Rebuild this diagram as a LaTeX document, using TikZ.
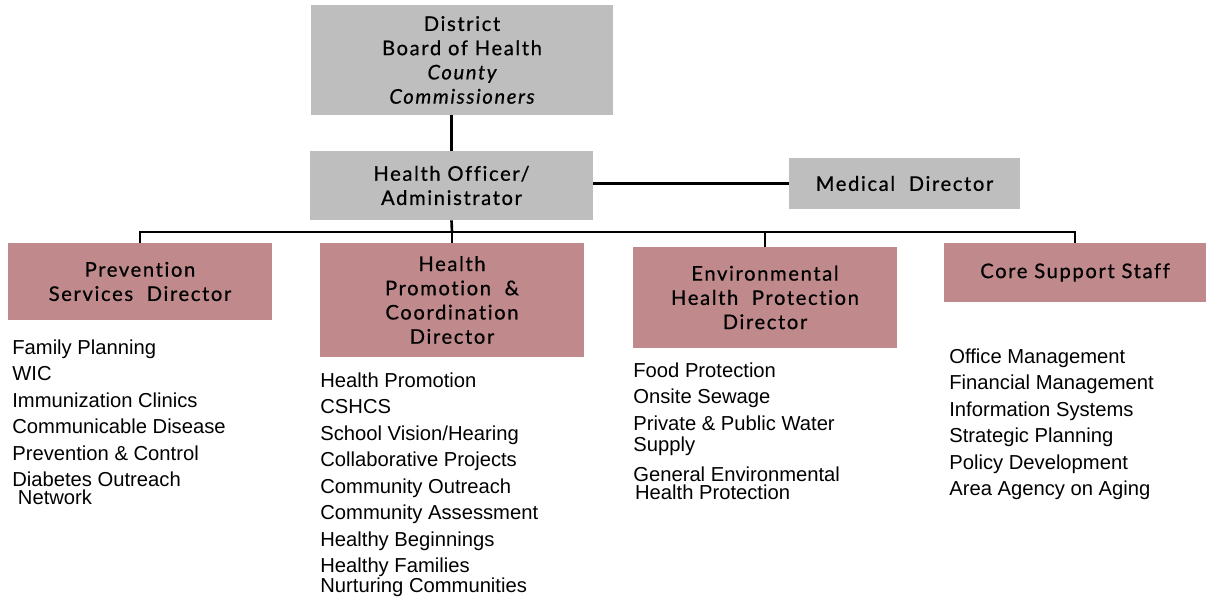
\documentclass[tikz,border=0pt]{standalone}
\usepackage{fontspec}
\setmainfont{Liberation Sans}
\newfontfamily\boxfont[LetterSpace=8,Ligatures={NoCommon},FakeBold=0.6]{Lato}
\usetikzlibrary{positioning}

\definecolor{boardgray}{RGB}{190,190,190}
\definecolor{dirrose}{RGB}{192,138,140}

\begin{document}
\begin{tikzpicture}[x=0.02cm,y=-0.02cm,
    headbox/.style={fill=boardgray, align=center, inner sep=0pt,
      font=\boxfont\fontsize{11.5}{13.8}\selectfont},
    dirbox/.style={fill=dirrose, align=center, inner sep=0pt,
      font=\boxfont\fontsize{11.5}{13.8}\selectfont},
    unitlist/.style={align=left, anchor=north west, inner sep=0pt,
      font=\fontsize{11.5}{15.1}\selectfont},
    link/.style={line width=1.5pt}]
  \useasboundingbox (0,0) rectangle (1206,599);

  % Leitung
  \node[headbox, minimum width=6.04cm, minimum height=2.2cm] (board) at (462,60)
    {District\\Board of Health\\\itshape County\\\itshape Commissioners};
  \node[headbox, minimum width=5.66cm, minimum height=1.38cm] (officer) at (451.5,185.5)
    {Health Officer/\\Administrator};
  \node[headbox, minimum width=4.62cm, minimum height=1.02cm] (medical) at (904.5,183.5)
    {Medical\ \ Director};

  % Abteilungen
  \node[dirbox, minimum width=5.28cm, minimum height=1.54cm] (prevention) at (140,281.5)
    {Prevention\\Services\ \ Director};
  \node[dirbox, minimum width=5.28cm, minimum height=2.28cm] (promotion) at (452,300)
    {Health\\Promotion\ \ \&\\Coordination\\Director};
  \node[dirbox, minimum width=5.28cm, minimum height=2.02cm] (environment) at (765,297.5)
    {Environmental\\Health\ \ Protection\\Director};
  \node[dirbox, minimum width=5.24cm, minimum height=1.18cm] (core) at (1075,272.5)
    {Core\ Support\ Staff};

  % Aufgaben
  \node[unitlist] (preventionlist) at (12,339)
    {Family Planning\\WIC\\Immunization Clinics\\Communicable Disease\\Prevention \& Control\\
     Diabetes Outreach\\[-4.9pt]\ Network};
  \node[unitlist] (promotionlist) at (320,372)
    {Health Promotion\\CSHCS\\School Vision/Hearing\\Collaborative Projects\\Community Outreach\\
     Community Assessment\\Healthy Beginnings\\Healthy Families\\[-3.7pt]Nurturing Communities};
  \node[unitlist] (environmentlist) at (633,362)
    {Food Protection\\Onsite Sewage\\Private \& Public Water\\[-3pt]Supply\\[2pt]
     General Environmental\\[-4.9pt]\hspace{1pt}Health Protection};
  \node[unitlist] (corelist) at (949,348)
    {Office Management\\Financial Management\\Information Systems\\Strategic Planning\\
     Policy Development\\Area Agency on Aging};

  % Linien
  \coordinate (bus) at (452,232);
  \draw[link] (officer.north) -- (officer.north |- board.south);
  \draw[link] (medical.west) -- (medical.west -| officer.east);
  \draw[link] (officer.south) -- (bus);
  \draw[link] (prevention.north) |- (bus) -| (core.north);
  \draw[link] (promotion.north) -- (promotion.north |- bus);
  \draw[link] (environment.north) -- (environment.north |- bus);
\end{tikzpicture}
\end{document}
